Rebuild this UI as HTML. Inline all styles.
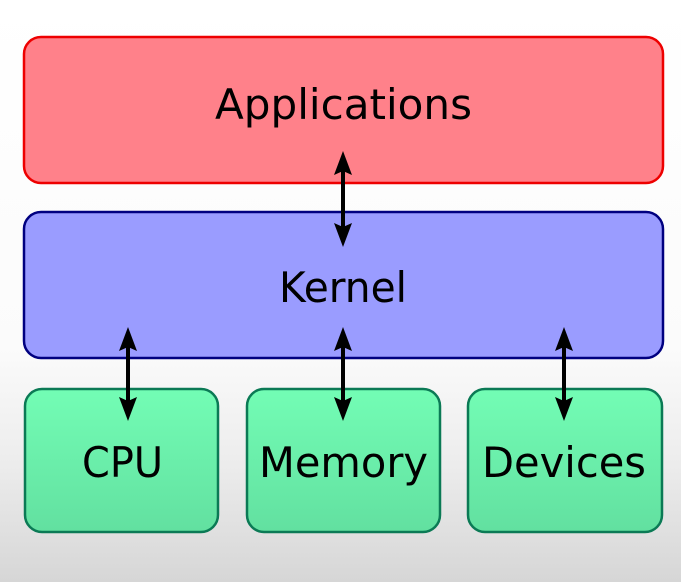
<!DOCTYPE html>
<html><head><meta charset="utf-8"><style>
html,body{margin:0;padding:0;width:681px;height:582px;overflow:hidden}
</style></head><body>
<svg width="681" height="582" viewBox="0 0 681 582" xmlns="http://www.w3.org/2000/svg">
<defs>
<linearGradient id="bg" x1="0" y1="0" x2="0" y2="1">
<stop offset="0" stop-color="#ffffff"/>
<stop offset="0.6" stop-color="#fbfbfb"/>
<stop offset="0.8" stop-color="#ececec"/>
<stop offset="1" stop-color="#d6d6d6"/>
</linearGradient>
<linearGradient id="gr" x1="0" y1="0" x2="0" y2="1">
<stop offset="0" stop-color="#73fdb5"/>
<stop offset="1" stop-color="#62e0a0"/>
</linearGradient>
</defs>
<rect width="681" height="582" fill="url(#bg)"/>
<rect x="24" y="37" width="639" height="146" rx="17" fill="#ff818a" stroke="#ee0000" stroke-width="2.5"/>
<rect x="24" y="212" width="639" height="146" rx="17" fill="#9a9cff" stroke="#000080" stroke-width="2.5"/>
<rect x="25" y="389" width="193" height="143" rx="17" fill="url(#gr)" stroke="#0b7a55" stroke-width="2.5"/>
<rect x="247" y="389" width="193" height="143" rx="17" fill="url(#gr)" stroke="#0b7a55" stroke-width="2.5"/>
<rect x="468" y="389" width="194" height="143" rx="17" fill="url(#gr)" stroke="#0b7a55" stroke-width="2.5"/>
<g font-family="'DejaVu Sans','Liberation Sans',sans-serif" font-size="42" fill="#000">
<text x="215" y="119" textLength="257" lengthAdjust="spacingAndGlyphs">Applications</text>
<text x="279" y="302" textLength="128" lengthAdjust="spacingAndGlyphs">Kernel</text>
<text x="82" y="477" textLength="81" lengthAdjust="spacingAndGlyphs">CPU</text>
<text x="259" y="477" textLength="169" lengthAdjust="spacingAndGlyphs">Memory</text>
<text x="482" y="477" textLength="164" lengthAdjust="spacingAndGlyphs">Devices</text>
</g>
<g stroke="#000" stroke-width="4" fill="#000">
<line x1="343" y1="165" x2="343" y2="233"/>
<line x1="128" y1="340" x2="128" y2="407"/>
<line x1="343" y1="340" x2="343" y2="407"/>
<line x1="564" y1="340" x2="564" y2="407"/>
</g>
<g fill="#000">
<path d="M343 151 L352 175 L343 171 L334 175 Z"/>
<path d="M343 247 L352 223 L343 227 L334 223 Z"/>
<path d="M128 327 L137 351 L128 347 L119 351 Z"/>
<path d="M128 421 L137 397 L128 401 L119 397 Z"/>
<path d="M343 327 L352 351 L343 347 L334 351 Z"/>
<path d="M343 421 L352 397 L343 401 L334 397 Z"/>
<path d="M564 327 L573 351 L564 347 L555 351 Z"/>
<path d="M564 421 L573 397 L564 401 L555 397 Z"/>
</g>
</svg>
</body></html>
